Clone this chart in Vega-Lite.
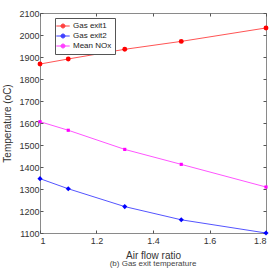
{
  "$schema": "https://vega.github.io/schema/vega-lite/v6.json",
  "width": 226,
  "height": 220,
  "autosize": "none",
  "padding": {"left": 40, "top": 13, "right": 6, "bottom": 37},
  "background": "white",
  "config": {
    "font": "Liberation Sans",
    "view": {"stroke": "#8a8a8a", "strokeWidth": 1},
    "axis": {
      "grid": false,
      "domain": false,
      "tickColor": "#555",
      "tickSize": -3,
      "labelColor": "#333",
      "labelFontSize": 9,
      "titleFontSize": 10,
      "titleFontWeight": "normal",
      "titleColor": "#333"
    }
  },
  "title": {
    "text": "(b) Gas exit temperature",
    "orient": "bottom",
    "fontSize": 8,
    "fontWeight": "normal",
    "color": "#444",
    "offset": 0
  },
  "data": {
    "values": [
      {"ratio": 1.0, "temp": 1868, "series": "Gas exit1"},
      {"ratio": 1.1, "temp": 1891, "series": "Gas exit1"},
      {"ratio": 1.3, "temp": 1935, "series": "Gas exit1"},
      {"ratio": 1.5, "temp": 1971, "series": "Gas exit1"},
      {"ratio": 1.8, "temp": 2032, "series": "Gas exit1"},
      {"ratio": 1.0, "temp": 1347, "series": "Gas exit2"},
      {"ratio": 1.1, "temp": 1301, "series": "Gas exit2"},
      {"ratio": 1.3, "temp": 1220, "series": "Gas exit2"},
      {"ratio": 1.5, "temp": 1160, "series": "Gas exit2"},
      {"ratio": 1.8, "temp": 1100, "series": "Gas exit2"},
      {"ratio": 1.0, "temp": 1606, "series": "Mean NOx"},
      {"ratio": 1.1, "temp": 1567, "series": "Mean NOx"},
      {"ratio": 1.3, "temp": 1480, "series": "Mean NOx"},
      {"ratio": 1.5, "temp": 1412, "series": "Mean NOx"},
      {"ratio": 1.8, "temp": 1309, "series": "Mean NOx"}
    ]
  },
  "resolve": {"axis": {"x": "independent", "y": "independent"}},
  "layer": [
    {
      "mark": {"type": "line", "strokeWidth": 0.9, "opacity": 0.75, "clip": false},
      "encoding": {
        "x": {
          "field": "ratio", "type": "quantitative",
          "scale": {"domain": [1, 1.8], "nice": false, "zero": false},
          "axis": {"title": "Air flow ratio", "values": [1, 1.2, 1.4, 1.6, 1.8], "format": ".1~f", "labelPadding": 6, "titlePadding": 5}
        },
        "y": {
          "field": "temp", "type": "quantitative",
          "scale": {"domain": [1100, 2100], "nice": false, "zero": false},
          "axis": {"title": "Temperature (oC)", "format": "d", "values": [1100, 1200, 1300, 1400, 1500, 1600, 1700, 1800, 1900, 2000, 2100], "labelPadding": 4, "titlePadding": 6}
        },
        "color": {
          "field": "series", "type": "nominal",
          "scale": {"domain": ["Gas exit1", "Gas exit2", "Mean NOx"], "range": ["#ff0000", "#0000ff", "#ff00ff"]},
          "legend": {
            "title": null,
            "orient": "none",
            "legendX": 15,
            "legendY": 5,
            "fillColor": "white",
            "strokeColor": "#555",
            "padding": 3,
            "labelFontSize": 8,
            "labelColor": "#222",
            "symbolType": "M-1.5,0L1.5,0M-0.45,0A0.45,0.45 0 1,1 0.45,0A0.45,0.45 0 1,1 -0.45,0",
            "symbolSize": 80,
            "symbolStrokeWidth": 1,
            "rowPadding": 0,
            "labelOffset": 5,
            "encode": {
              "symbols": {
                "update": {
                  "shape": {"signal": "datum.value === 'Gas exit1' ? 'M-1.5,0L1.5,0M-0.45,0A0.45,0.45 0 1,1 0.45,0A0.45,0.45 0 1,1 -0.45,0' : datum.value === 'Gas exit2' ? 'M-1.5,0L1.5,0M0,-0.55L0.4,0L0,0.55L-0.4,0Z' : 'M-1.5,0L1.5,0M-0.28,-0.28L0.28,-0.28L0.28,0.28L-0.28,0.28Z'"},
                  "fill": {"signal": "scale('color', datum.value)"},
                  "fillOpacity": {"value": 1},
                  "stroke": {"signal": "scale('color', datum.value)"}
                }
              }
            }
          }
        }
      }
    },
    {
      "transform": [{"filter": "datum.series === 'Gas exit1'"}],
      "mark": {"type": "point", "filled": true, "opacity": 1, "shape": "circle", "size": 24, "clip": false},
      "encoding": {
        "x": {"field": "ratio", "type": "quantitative", "axis": {"orient": "top", "labels": false, "title": null, "values": [1, 1.2, 1.4, 1.6, 1.8]}},
        "y": {"field": "temp", "type": "quantitative", "axis": {"orient": "right", "labels": false, "title": null, "values": [1100, 1200, 1300, 1400, 1500, 1600, 1700, 1800, 1900, 2000, 2100]}},
        "color": {"field": "series", "type": "nominal"}
      }
    },
    {
      "transform": [{"filter": "datum.series === 'Gas exit2'"}],
      "mark": {"type": "point", "filled": true, "opacity": 1, "shape": "diamond", "size": 26, "clip": false},
      "encoding": {
        "x": {"field": "ratio", "type": "quantitative", "axis": null},
        "y": {"field": "temp", "type": "quantitative", "axis": null},
        "color": {"field": "series", "type": "nominal"}
      }
    },
    {
      "transform": [{"filter": "datum.series === 'Mean NOx'"}],
      "mark": {"type": "point", "filled": true, "opacity": 1, "shape": "square", "size": 10, "clip": false},
      "encoding": {
        "x": {"field": "ratio", "type": "quantitative", "axis": null},
        "y": {"field": "temp", "type": "quantitative", "axis": null},
        "color": {"field": "series", "type": "nominal"}
      }
    }
  ]
}
